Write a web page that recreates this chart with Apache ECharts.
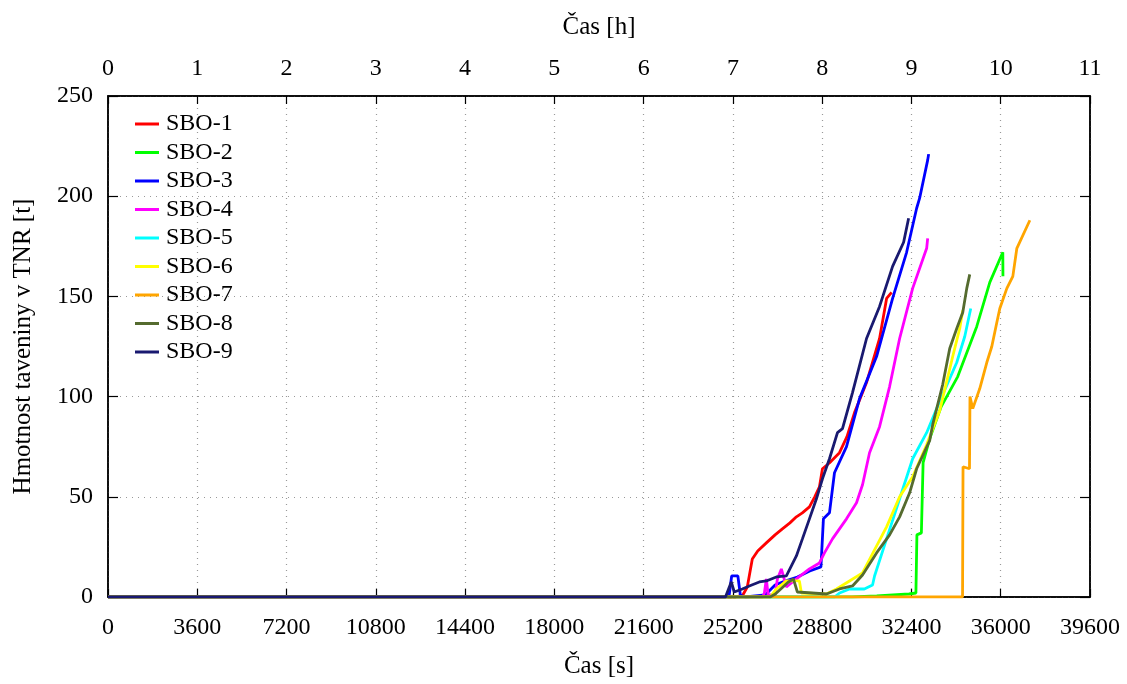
<!DOCTYPE html>
<html>
<head>
<meta charset="utf-8">
<script src="https://cdn.jsdelivr.net/npm/echarts@6/dist/echarts.min.js"></script>
<style>
html,body{margin:0;padding:0;background:#fff;}
#chart{width:1127px;height:684px;}
</style>
</head>
<body>
<div id="chart"></div>
<script>
// ---- Data (time [s], mass [t]) ----
const seriesNames = ['SBO-1','SBO-2','SBO-3','SBO-4','SBO-5','SBO-6','SBO-7','SBO-8','SBO-9'];
const colors = ['#ff0000','#00ff00','#0000ff','#ff00ff','#00ffff','#ffff00','#ffa500','#556b2f','#191970'];

const sbo1 = [[0,0],[25000,0],[25200,-2],[25300,0],[25600,1],[25780,5],[25982,19],[26200,23],[26548,27],[26900,31],[27195,34],[27500,37],[27760,40],[28000,42],[28286,45],[28500,50],[28690,55],[28811,64],[29100,67],[29498,72],[29800,80],[30104,92],[30589,107],[31114,129],[31398,149],[31600,152]];
const sbo2 = [[0,0],[30000,0],[31000,0.5],[32300,1.5],[32580,2],[32620,31],[32800,32],[32860,32],[32870,67],[33134,79],[33600,95],[34266,110],[35034,135],[35559,157],[36084,172],[36090,160]];
const sbo3 = [[0,0],[24900,0],[25050,1],[25150,10.5],[25400,10.5],[25500,1],[25700,0],[26500,1],[26900,6],[27300,8],[27800,10],[28300,13],[28750,15],[28850,39],[29094,42],[29296,62],[29781,75],[30306,99],[30993,120],[31640,149],[32205,172],[32609,194],[32730,199],[33054,218],[33094,221]];
const sbo4 = [[0,0],[26400,0],[26470,2],[26548,9],[26620,1],[26900,1],[26994,9],[27154,14],[27356,5],[27760,9],[28286,14],[28690,17],[28892,22],[29215,29],[29781,39],[30185,47],[30427,56],[30710,72],[31114,85],[31519,105],[31923,129],[32448,154],[33013,174],[33054,179]];
const sbo5 = [[0,0],[29300,0],[29500,2],[29902,4],[30500,4],[30831,6],[30912,10.5],[31397,29],[31923,49],[32448,69],[33013,82],[33417,94],[33660,101],[34226,117],[34549,130],[34791,144]];
const sbo6 = [[0,0],[26700,0],[26952,4],[27356,8],[27881,8],[27962,2],[28973,1.5],[29377,4],[29902,8],[30427,12],[31397,35],[31923,50],[32448,60],[33013,76],[33538,93],[34064,120],[34347,134],[34468,143]];
const sbo7 = [[0,0],[34460,0],[34480,65],[34740,64],[34760,100],[34872,94],[35155,104],[35438,117],[35640,125],[35842,137],[35963,144],[36246,154],[36488,160],[36650,174],[37175,188]];
const sbo8 = [[0,0],[26700,0],[26911,1.5],[27437,7.5],[27639,9],[27800,2.5],[28973,1.5],[29498,4],[30023,5.5],[30427,11],[30993,22],[31519,31],[31923,40],[32327,52],[32609,64],[33134,78],[33256,86],[33660,106],[33943,124],[34226,134],[34468,142],[34630,154],[34751,161]];
const sbo9 = [[0,0],[24900,0],[25134,7.5],[25255,2.5],[25578,4],[25861,5.5],[26265,7.5],[26548,8],[26952,10],[27356,10.5],[27558,15.5],[27760,20.5],[28003,29],[28286,39],[28568,49],[28811,59],[29094,69],[29417,82],[29619,84],[30023,102],[30589,129],[31114,145],[31640,165],[32084,177],[32286,189]];
const allData = [sbo1,sbo2,sbo3,sbo4,sbo5,sbo6,sbo7,sbo8,sbo9];

const secTicks = {min:0,max:39600,interval:3600};
const hourTicks = {min:0,max:11,interval:1};
const yTicks = {min:0,max:250,interval:50};

const FONT = 'Liberation Serif';
const FS = 24;
const plain = v => String(v);

const chart = echarts.init(document.getElementById('chart'), null, {renderer:'canvas'});
const option = {
  animation:false,
  backgroundColor:'#fff',
  textStyle:{fontFamily:FONT,color:'#000'},
  grid:{left:108,right:37,top:96,bottom:87,show:true,borderColor:'#000',borderWidth:1.5,backgroundColor:'transparent'},
  legend:{
    orient:'vertical',left:130,top:107,
    data:seriesNames,
    icon:'rect',itemWidth:24,itemHeight:3,itemGap:4.5,
    textStyle:{fontFamily:FONT,fontSize:FS,color:'#000',lineHeight:22,padding:[0,0,0,2]},
    selectedMode:false
  },
  xAxis:[
    {type:'value',position:'bottom',min:secTicks.min,max:secTicks.max,interval:secTicks.interval,
     name:'Čas [s]',nameLocation:'middle',nameGap:57,
     nameTextStyle:{fontFamily:FONT,fontSize:FS+1,color:'#000'},
     axisLine:{show:true,onZero:false,lineStyle:{color:'#000',width:1.5}},
     axisTick:{show:true,inside:true,length:8,lineStyle:{color:'#000',width:1.2}},
     axisLabel:{fontFamily:FONT,fontSize:FS,color:'#000',margin:19,formatter:plain},
     splitLine:{show:true,lineStyle:{color:'#999',type:[1,5],width:1.2}}},
    {type:'value',position:'top',min:hourTicks.min,max:hourTicks.max,interval:hourTicks.interval,
     name:'Čas [h]',nameLocation:'middle',nameGap:56,
     nameTextStyle:{fontFamily:FONT,fontSize:FS+1,color:'#000'},
     axisLine:{show:true,onZero:false,lineStyle:{color:'#000',width:1.5}},
     axisTick:{show:true,inside:true,length:8,lineStyle:{color:'#000',width:1.2}},
     axisLabel:{fontFamily:FONT,fontSize:FS,color:'#000',margin:15,formatter:plain},
     splitLine:{show:false}}
  ],
  yAxis:[
    {type:'value',position:'left',min:yTicks.min,max:yTicks.max,interval:yTicks.interval,
     name:'Hmotnost taveniny v TNR [t]',nameLocation:'middle',nameGap:72,
     nameTextStyle:{fontFamily:FONT,fontSize:FS+1,color:'#000'},
     axisLine:{show:true,onZero:false,lineStyle:{color:'#000',width:1.5}},
     axisTick:{show:true,inside:true,length:10,lineStyle:{color:'#000',width:1.2}},
     axisLabel:{fontFamily:FONT,fontSize:FS,color:'#000',margin:15,formatter:plain},
     splitLine:{show:true,lineStyle:{color:'#999',type:[1,5],width:1.2}}},
    {type:'value',position:'right',min:yTicks.min,max:yTicks.max,interval:yTicks.interval,
     axisLine:{show:true,onZero:false,lineStyle:{color:'#000',width:1.5}},
     axisTick:{show:true,inside:true,length:10,lineStyle:{color:'#000',width:1.2}},
     axisLabel:{show:false},splitLine:{show:false}}
  ],
  series: seriesNames.map((n,i)=>({
    name:n,type:'line',xAxisIndex:0,yAxisIndex:0,
    data:allData[i],showSymbol:false,symbol:'none',
    lineStyle:{color:colors[i],width:2.8},itemStyle:{color:colors[i]},
    z:2+i
  }))
};
chart.setOption(option);
</script>
</body>
</html>
